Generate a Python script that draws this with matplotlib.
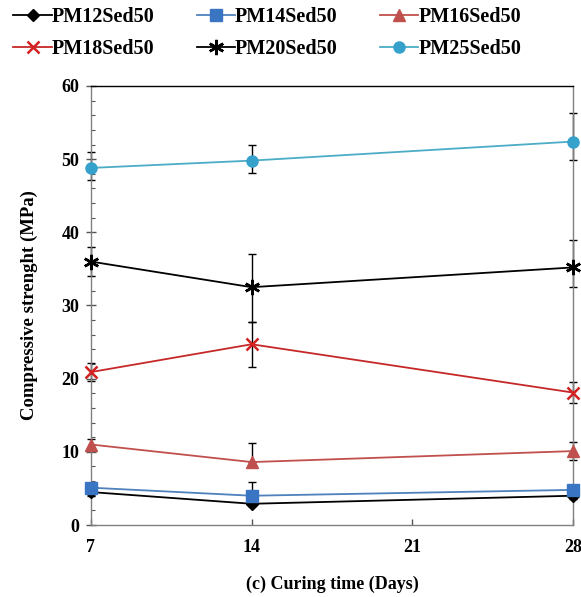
import numpy as np
import matplotlib
matplotlib.use('Agg')
import matplotlib.pyplot as plt
from matplotlib.ticker import MultipleLocator

days = [7, 14, 28]
series = ['PM12Sed50', 'PM14Sed50', 'PM16Sed50', 'PM18Sed50', 'PM20Sed50', 'PM25Sed50']

pm12 = [4.5, 2.9, 4.0]
pm14 = [5.1, 4.0, 4.8]
pm16 = [11.0, 8.6, 10.1]
pm18 = [20.9, 24.7, 18.1]
pm20 = [36.0, 32.5, 35.2]
pm25 = [48.8, 49.8, 52.4]

# error bars (lower, upper)
pm12_err = [[0.5, 0.3, 0.4], [0.5, 0.3, 0.4]]
pm14_err = [[0.6, 0.0, 0.5], [0.6, 1.9, 0.5]]
pm16_err = [[0.8, 0.0, 1.2], [0.8, 2.6, 1.2]]
pm18_err = [[1.2, 3.1, 1.4], [1.2, 3.1, 1.4]]
pm20_err = [[2.0, 4.7, 2.7], [2.0, 4.6, 3.7]]
pm25_err = [[1.7, 1.7, 2.5], [2.2, 2.1, 3.9]]

values = [pm12, pm14, pm16, pm18, pm20, pm25]
errors = [pm12_err, pm14_err, pm16_err, pm18_err, pm20_err, pm25_err]

line_colors = ['black', '#4F81BD', '#C0504D', '#C62828', 'black', '#4BACC6']
marker_colors = ['black', '#3A75C4', '#C0504D', '#D32020', 'black', '#36A2CC']
markers = ['D', 's', '^', 'x', (6, 2, 0), 'o']
msizes = [6.5, 8.5, 8.5, 9, 11, 8]

font = 'Liberation Serif'

fig = plt.figure(figsize=(5.81, 5.97), dpi=100)
ax = fig.add_axes([0.1566, 0.1206, 0.8296, 0.7354])

handles = []
for name, y, err, lc, mc, m, ms in zip(series, values, errors, line_colors,
                                       marker_colors, markers, msizes):
    ax.errorbar(days, y, yerr=err, fmt='none', ecolor='black', elinewidth=1,
                capsize=3, capthick=1, zorder=2, clip_on=False)
    h, = ax.plot(days, y, color=lc, lw=1.3, marker=m, markersize=ms,
                 markerfacecolor=mc, markeredgecolor=mc, markeredgewidth=1.8 if m in ('x', (6, 2, 0)) else 1,
                 label=name, zorder=3, clip_on=False)
    handles.append(h)

ax.set_xlim(7, 28)
ax.set_ylim(0, 60)
ax.set_xticks([7, 14, 21, 28])
ax.yaxis.set_major_locator(MultipleLocator(10))
ax.yaxis.set_minor_locator(MultipleLocator(2))
ax.tick_params(axis='y', which='major', direction='inout', length=7, width=1,
               color='#555555', pad=5)
ax.tick_params(axis='y', which='minor', direction='in', length=3, width=0.8,
               color='#555555')
ax.tick_params(axis='x', which='major', direction='in', length=4, width=1,
               color='#555555', pad=10)

for lab in ax.get_xticklabels() + ax.get_yticklabels():
    lab.set_fontfamily(font)
    lab.set_fontweight('bold')
    lab.set_fontsize(13)

for side in ['left', 'bottom', 'right']:
    ax.spines[side].set_color('#808080')
    ax.spines[side].set_linewidth(1)
ax.spines['top'].set_color('black')
ax.spines['top'].set_linewidth(1)

ax.set_xlabel('(c) Curing time (Days)', fontfamily=font, fontweight='bold',
              fontsize=13)
ax.xaxis.set_label_coords(0.5, -0.115)
ax.set_ylabel('Compressive strenght (MPa)', fontfamily=font, fontweight='bold',
              fontsize=13.5)
ax.yaxis.set_label_coords(-0.11, 0.5)

# legend fills column by column, so reorder to get rows 12/14/16 and 18/20/25
order = [0, 3, 1, 4, 2, 5]
fig.legend(handles=[handles[i] for i in order], loc='upper left',
           bbox_to_anchor=(-0.008, 1.018),
           ncol=3, frameon=False, handlelength=1.9, handletextpad=0.0,
           columnspacing=2.1, labelspacing=0.6,
           prop={'family': font, 'weight': 'bold', 'size': 14.5})

fig.savefig('out.png', dpi=100)
